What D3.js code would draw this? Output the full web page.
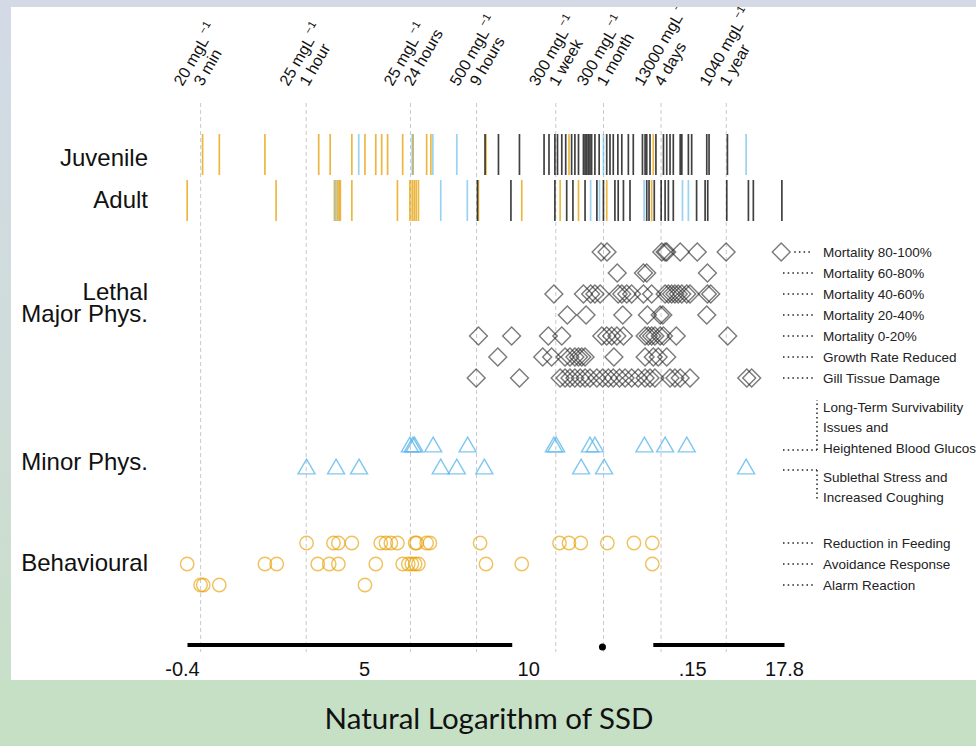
<!DOCTYPE html>
<html>
<head>
<meta charset="utf-8">
<script src="https://cdnjs.cloudflare.com/ajax/libs/d3/7.8.5/d3.min.js"></script>
<style>
  html, body { margin: 0; padding: 0; }
  body { width: 976px; height: 746px; overflow: hidden; }
  text { font-family: "Liberation Sans", Arial, sans-serif; }
</style>
</head>
<body>
<svg id="chart" width="976" height="746"></svg>
<script>
const width = 976;
const height = 746;

// exposure markers along the top (concentration mg/L, duration)
const markConc = [20, 25, 25, 500, 300, 300, 13000, 1040];
const markDur = ["3 min", "1 hour", "24 hours", "9 hours", "1 week", "1 month", "4 days", "1 year"];
const markHours = [0.05, 1, 24, 9, 168, 720, 96, 8760];

// rug values (ln SSD) split by effect type
const juvBehav = [0.06, 0.57, 1.96, 3.60, 3.95, 4.61, 5.01, 5.34, 5.52, 5.70, 6.16, 6.48, 6.89, 7.02, 8.70, 11.23, 13.80];
const juvMinor = [4.82, 6.45, 7.08, 7.81, 12.28, 16.63];
const juvLethal = [8.67, 9.08, 9.72, 10.47, 10.62, 10.80, 10.88, 11.01, 11.13, 11.31, 11.41, 11.52, 11.67, 11.72, 11.77,
  11.82, 11.87, 11.92, 12.02, 12.15, 12.38, 12.48, 12.58, 12.72, 12.84, 13.04, 13.19, 13.47, 13.55, 13.60, 13.70,
  13.88, 14.11, 14.21, 14.31, 14.41, 14.62, 14.67, 14.87, 14.97, 15.43, 15.50, 16.06];
const adultBehav = [-0.41, 2.30, 4.08, 4.17, 4.22, 4.26, 4.61, 6.00, 6.38, 6.45, 6.51, 6.57, 6.64, 8.47, 9.79, 10.96, 11.52, 12.38, 13.75];
const adultMinor = [4.12, 7.32, 8.13, 11.89, 12.16, 13.52, 14.69, 14.87];
const adultLethal = [8.44, 9.46, 10.80, 11.16, 11.35, 11.72, 12.08, 12.28, 12.63, 12.73, 12.89, 13.09, 13.60, 13.67,
  13.83, 14.04, 14.16, 14.26, 14.41, 15.12, 15.38, 15.46, 16.04, 16.70, 16.85, 17.72];

// lethal / major physiological effects
const lethalRows = ["Mortality 80-100%", "Mortality 60-80%", "Mortality 40-60%", "Mortality 20-40%",
  "Mortality 0-20%", "Growth Rate Reduced", "Gill Tissue Damage"];
const lethalValues = [
  [12.21, 12.39, 14.06, 14.16, 14.21, 14.62, 15.14, 16.02, 17.70],
  [12.70, 13.50, 13.60, 15.45],
  [10.77, 11.67, 11.89, 12.02, 12.18, 12.73, 12.84, 12.99, 13.14, 13.50, 13.75, 14.16, 14.26, 14.36, 14.46, 14.56,
    14.67, 14.82, 14.92, 15.45, 15.55],
  [11.18, 11.75, 12.87, 13.62, 14.01, 14.09, 15.43],
  [8.47, 9.48, 10.60, 11.01, 12.23, 12.38, 12.53, 12.69, 12.89, 13.55, 13.65, 13.75, 13.85, 14.01, 14.11, 14.50, 16.07],
  [9.06, 10.43, 10.70, 11.11, 11.26, 11.41, 11.52, 11.62, 11.72, 12.60, 13.55, 13.80, 13.95, 14.21],
  [8.40, 9.72, 10.96, 11.11, 11.26, 11.41, 11.57, 11.72, 11.87, 12.08, 12.26, 12.43, 12.58, 12.77, 12.94, 13.14,
    13.34, 13.55, 13.70, 13.85, 14.31, 14.46, 14.62, 14.92, 16.65, 16.80]
];

// minor physiological effects
const minorRows = [["Long-Term Survivability", "Issues and", "Heightened Blood Glucose"],
  ["Sublethal Stress and", "Increased Coughing"]];
const minorValues = [
  [6.38, 6.47, 6.52, 7.09, 8.14, 10.77, 10.84, 11.87, 12.02, 13.53, 14.16, 14.82],
  [3.23, 4.13, 4.83, 7.32, 7.81, 8.65, 11.60, 12.30, 16.63]
];

// behavioural effects
const behavRows = ["Reduction in Feeding", "Avoidance Response", "Alarm Reaction"];
const behavValues = [
  [3.23, 4.05, 4.20, 4.61, 5.49, 5.65, 5.80, 6.00, 6.54, 6.59, 6.89, 6.99, 8.52, 10.94, 11.23, 11.59, 12.40, 13.21, 13.77],
  [-0.41, 1.96, 2.32, 3.57, 3.92, 4.20, 5.34, 6.16, 6.33, 6.44, 6.54, 6.64, 8.70, 9.79, 13.77],
  [0.00, 0.08, 0.57, 5.01]
];

// bottom range bar
const rangeSegments = [[-0.4, 9.5], [13.8, 17.8]];
const rangeDot = [12.25];
const tickValues = [-0.4, 5, 10, 15, 17.8];
const tickLabels = ["-0.4", "5", "10", ".15", "17.8"];

const orange = "#E69F00";
const blue = "#56B4E9";

const svg = d3.select("#chart");

// background
const defs = svg.append("defs");
const grad = defs.append("linearGradient").attr("id", "bg").attr("x1", 0).attr("y1", 0).attr("x2", 0).attr("y2", 1);
grad.append("stop").attr("offset", "0%").attr("stop-color", "#d3dae6");
grad.append("stop").attr("offset", "55%").attr("stop-color", "#cfdcd8");
grad.append("stop").attr("offset", "100%").attr("stop-color", "#c6e0c5");
svg.append("rect").attr("width", width).attr("height", height).attr("fill", "url(#bg)");
svg.append("rect").attr("x", 0).attr("y", 680).attr("width", width).attr("height", 66).attr("fill", "#c6e0c5");

defs.append("clipPath").attr("id", "panel")
  .append("rect").attr("x", 11).attr("y", 7).attr("width", width - 11).attr("height", 673);

const panel = svg.append("g").attr("clip-path", "url(#panel)");
panel.append("rect").attr("x", 11).attr("y", 7).attr("width", width - 11).attr("height", 673).attr("fill", "white");

const x = d3.scaleLinear().domain([-0.4, 17.8]).range([187.5, 784.5]);
const marks = markConc.map((c, i) => ({ conc: c, dur: markDur[i], ln: Math.log(c * markHours[i]) }));

// dashed guide lines
panel.append("g")
  .selectAll("line")
  .data(marks)
  .join("line")
  .attr("x1", d => x(d.ln)).attr("x2", d => x(d.ln))
  .attr("y1", 103).attr("y2", 652)
  .attr("stroke", "#c9c9c9")
  .attr("stroke-width", 1)
  .attr("stroke-dasharray", "4 3");

// rotated exposure labels
const lab = panel.append("g").selectAll("g").data(marks).join("g");
lab.append("text")
  .attr("transform", d => `translate(${x(d.ln) - 18},87) rotate(-60)`)
  .attr("font-size", 16)
  .attr("fill", "#111")
  .each(function (d) {
    const t = d3.select(this);
    t.append("tspan").text(`${d.conc} mgL`);
    t.append("tspan").attr("dx", 3).attr("dy", -7).attr("font-size", 11).text("\u22121");
  });
lab.append("text")
  .attr("transform", d => `translate(${x(d.ln) + 2},87) rotate(-60)`)
  .attr("font-size", 16)
  .attr("fill", "#111")
  .text(d => d.dur);

// rugs
function rug(values, color, y0, y1, opacity) {
  panel.append("g")
    .selectAll("line")
    .data(values)
    .join("line")
    .attr("x1", d => x(d)).attr("x2", d => x(d))
    .attr("y1", y0).attr("y2", y1)
    .attr("stroke", color)
    .attr("stroke-width", 1.7)
    .attr("stroke-opacity", opacity);
}
rug(juvBehav, orange, 134, 175, 0.75);
rug(juvMinor, blue, 134, 175, 0.6);
rug(juvLethal, "#000", 134, 175, 0.75);
rug(adultBehav, orange, 180, 221, 0.75);
rug(adultMinor, blue, 180, 221, 0.6);
rug(adultLethal, "#000", 180, 221, 0.75);

// point rows
const rowStep = 21;
const lethalTop = 252, minorTop = 447, behavTop = 543;

function pointRow(values, y, shape, color, opacity) {
  panel.append("g")
    .selectAll("path")
    .data(values)
    .join("path")
    .attr("d", d3.symbol().type(shape.type).size(shape.size))
    .attr("transform", d => `translate(${x(d)},${y})${shape.rotate ? " rotate(45)" : ""}`)
    .attr("fill", "none")
    .attr("stroke", color)
    .attr("stroke-width", 1.4)
    .attr("stroke-opacity", opacity);
}

lethalValues.forEach((vals, i) =>
  pointRow(vals, lethalTop + i * rowStep, { type: d3.symbolSquare, size: 160, rotate: true }, "#222", 0.6));
minorValues.forEach((vals, i) =>
  pointRow(vals, minorTop + i * 22, { type: d3.symbolTriangle, size: 125 }, blue, 0.75));
behavValues.forEach((vals, i) =>
  pointRow(vals, behavTop + i * rowStep, { type: d3.symbolCircle, size: 141 }, orange, 0.65));

// leader dots + legend text
const legend = panel.append("g").attr("font-size", 13.5).attr("fill", "#222");
function leader(y, x0, x1) {
  legend.append("line")
    .attr("x1", x0).attr("x2", x1).attr("y1", y).attr("y2", y)
    .attr("stroke", "#222").attr("stroke-width", 1.5).attr("stroke-dasharray", "1.5 3.2");
}
lethalRows.forEach((name, i) => {
  const y = lethalTop + i * rowStep;
  const start = Math.max(783, x(d3.max(lethalValues[i])) + 13);
  leader(y, start, 813);
  legend.append("text").attr("x", 823).attr("y", y + 4.5).text(name);
});
behavRows.forEach((name, i) => {
  const y = behavTop + i * rowStep;
  leader(y, 783, 813);
  legend.append("text").attr("x", 823).attr("y", y + 4.5).text(name);
});
// bracketed minor labels
const minorLines = [{ y: 450, y2: 400, textY: [407, 427, 448] }, { y: 470, y2: 500, textY: [477, 497] }];
minorLines.forEach((m, i) => {
  leader(m.y, 783, 817);
  legend.append("line")
    .attr("x1", 817).attr("x2", 817).attr("y1", m.y).attr("y2", m.y2)
    .attr("stroke", "#222").attr("stroke-width", 1.5).attr("stroke-dasharray", "1.5 3");
  minorRows[i].forEach((t, j) => {
    legend.append("text").attr("x", 823).attr("y", m.textY[j] + 4.5).text(t);
  });
});

// category labels
const cats = [["Juvenile", 158], ["Adult", 200], ["Lethal", 292], ["Major Phys.", 314], ["Minor Phys.", 462], ["Behavioural", 563]];
panel.append("g")
  .selectAll("text")
  .data(cats)
  .join("text")
  .attr("x", 148)
  .attr("y", d => d[1] + 8)
  .attr("text-anchor", "end")
  .attr("font-size", 24)
  .attr("fill", "#111")
  .text(d => d[0]);

// bottom range bar
panel.append("g")
  .selectAll("line")
  .data(rangeSegments)
  .join("line")
  .attr("x1", d => x(d[0])).attr("x2", d => x(d[1]))
  .attr("y1", 645).attr("y2", 645)
  .attr("stroke", "#000").attr("stroke-width", 4);
panel.append("g")
  .selectAll("circle")
  .data(rangeDot)
  .join("circle")
  .attr("cx", d => x(d)).attr("cy", 647).attr("r", 3.5).attr("fill", "#000");
panel.append("g")
  .selectAll("text")
  .data(tickValues)
  .join("text")
  .attr("x", d => x(d) - (d < 0 ? 5 : 0))
  .attr("y", 676)
  .attr("text-anchor", "middle")
  .attr("font-size", 20)
  .attr("fill", "#111")
  .text((d, i) => tickLabels[i]);

// title
svg.append("text")
  .attr("x", 489)
  .attr("y", 729)
  .attr("text-anchor", "middle")
  .attr("font-size", 29.5)
  .style("font-family", "Lato, 'Open Sans', sans-serif")
  .attr("fill", "#111")
  .text("Natural Logarithm of SSD");
</script>
</body>
</html>
